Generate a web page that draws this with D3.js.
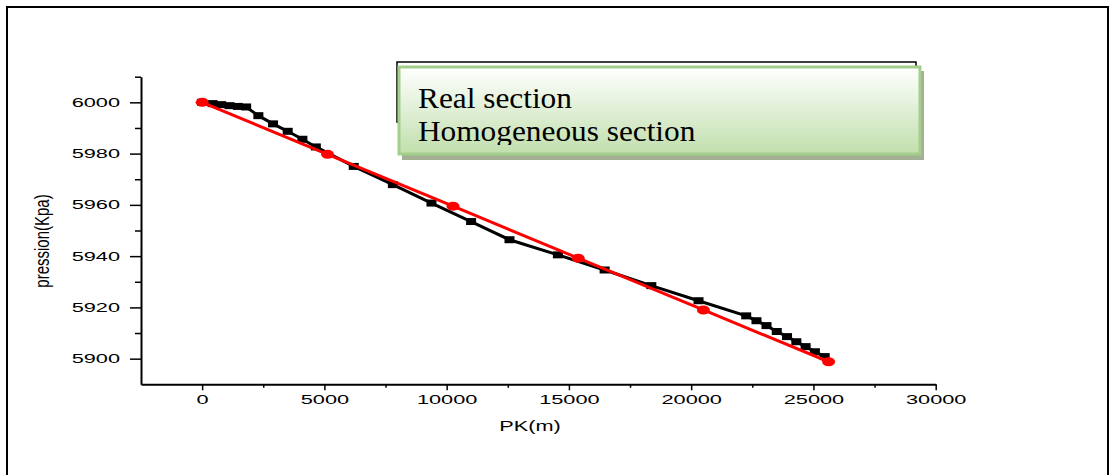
<!DOCTYPE html>
<html>
<head>
<meta charset="utf-8">
<script src="https://cdn.jsdelivr.net/npm/d3@7"></script>
<style>
  html, body { margin: 0; padding: 0; background: #fff; }
  svg { display: block; }
</style>
</head>
<body>
<svg id="chart" width="1110" height="475"></svg>
<script>
// ---- data ----
const realX = [0, 430, 780, 1120, 1460, 1800, 2300, 2900, 3500, 4100, 4650, 6200, 7800, 9380, 11000, 12570, 14550, 16460, 18370, 20300, 22250, 22670, 23080, 23500, 23920, 24300, 24680, 25060, 25460];
const realY = [6000, 5999.5, 5999.1, 5998.7, 5998.4, 5998.2, 5994.8, 5991.6, 5988.7, 5985.6, 5982.6, 5975, 5967.9, 5960.7, 5953.5, 5946.4, 5940.5, 5934.6, 5928.5, 5922.6, 5916.7, 5914.8, 5912.9, 5910.6, 5908.6, 5906.6, 5904.7, 5902.7, 5900.8];
const homoX = [0, 5130, 10260, 15380, 20500, 25620];
const homoY = [6000, 5979.7, 5959.5, 5939.2, 5919, 5898.8];
const xTicks = [0, 5000, 10000, 15000, 20000, 25000, 30000];
const xMinorTicks = [2500, 7500, 12500, 17500, 22500, 27500];
const yTicks = [5900, 5920, 5940, 5960, 5980, 6000];
const yMinorTicks = [5910, 5930, 5950, 5970, 5990, 6010];
const legendLabels = ["Real section", "Homogeneous section"];
const xTitle = "PK(m)";
const yTitle = "pression(Kpa)";

const svg = d3.select("#chart");

// outer frame
svg.append("rect").attr("x", 7).attr("y", 7).attr("width", 1101).attr("height", 490)
  .attr("fill", "none").attr("stroke", "#000").attr("stroke-width", 2);

const x = d3.scaleLinear().domain([-2500, 30000]).range([141, 935.7]);
const y = d3.scaleLinear().domain([5890, 6010]).range([384.3, 76.7]);

const SX = 1.74;
const tickFont = "'Liberation Sans', Arial, sans-serif";

// x axis
const gx = svg.append("g").attr("transform", `translate(0,${y(5890)})`);
gx.call(d3.axisBottom(x).tickValues(xTicks).tickSize(6).tickPadding(4.5).tickFormat(d3.format("d")).tickSizeOuter(0));
gx.append("g").call(d3.axisBottom(x).tickValues(xMinorTicks).tickSize(3.5).tickFormat("").tickSizeOuter(0))
  .select(".domain").remove();
gx.selectAll(".domain").attr("stroke-width", 2);
gx.selectAll(".tick line").attr("stroke-width", 1.5);
gx.selectAll(".tick text").attr("font-family", tickFont).attr("font-size", 12.5)
  .attr("fill", "#000").attr("transform", `scale(${SX},1)`);

// y axis
const gy = svg.append("g").attr("transform", `translate(${x(-2500)},0)`);
gy.call(d3.axisLeft(y).tickValues(yTicks).tickSize(11).tickPadding(10).tickFormat(d3.format("d")).tickSizeOuter(0));
gy.append("g").call(d3.axisLeft(y).tickValues(yMinorTicks).tickSize(6).tickFormat("").tickSizeOuter(0))
  .select(".domain").remove();
gy.selectAll(".domain").attr("stroke-width", 2);
gy.selectAll(".tick line").attr("stroke-width", 1.5);
gy.selectAll(".tick text").attr("font-family", tickFont).attr("font-size", 12.5)
  .attr("fill", "#000").attr("x", -21 / SX).attr("transform", `scale(${SX},1)`);

// axis titles
svg.append("text").attr("transform", `translate(530,431) scale(1.55,1)`)
  .attr("text-anchor", "middle").attr("font-family", tickFont).attr("font-size", 14)
  .text(xTitle);
svg.append("text").attr("transform", `translate(49,241) scale(1.3,1) rotate(-90)`)
  .attr("text-anchor", "middle").attr("font-family", tickFont).attr("font-size", 15)
  .text(yTitle);

// series
const realPts = realX.map((v, i) => [v, realY[i]]);
const homoPts = homoX.map((v, i) => [v, homoY[i]]);
const line = d3.line().x(d => x(d[0])).y(d => y(d[1]));

svg.append("path").datum(realPts).attr("d", line).attr("fill", "none")
  .attr("stroke", "#000").attr("stroke-width", 3);
svg.selectAll(".sq").data(realPts).enter().append("rect")
  .attr("x", d => x(d[0]) - 5).attr("y", d => y(d[1]) - 3.5)
  .attr("width", 10).attr("height", 7).attr("fill", "#000");

svg.append("path").datum(homoPts).attr("d", line).attr("fill", "none")
  .attr("stroke", "#f00").attr("stroke-width", 3);
svg.selectAll(".ci").data(homoPts).enter().append("ellipse")
  .attr("cx", d => x(d[0])).attr("cy", d => y(d[1]))
  .attr("rx", 6.5).attr("ry", 4.5).attr("fill", "#f00");

// legend
const defs = svg.append("defs");
const grad = defs.append("linearGradient").attr("id", "lg").attr("x1", 0).attr("y1", 0).attr("x2", 0).attr("y2", 1);
grad.append("stop").attr("offset", "0%").attr("stop-color", "#ffffff");
grad.append("stop").attr("offset", "100%").attr("stop-color", "#c1dfac");
defs.append("clipPath").attr("id", "lc").append("rect")
  .attr("x", 398).attr("y", 66).attr("width", 522).attr("height", 79);

svg.append("rect").attr("x", 397).attr("y", 62).attr("width", 519).attr("height", 60)
  .attr("fill", "#fff").attr("stroke", "#000").attr("stroke-width", 1.5);
svg.append("rect").attr("x", 402).attr("y", 71).attr("width", 522).attr("height", 89)
  .attr("fill", "#a3b094");
svg.append("rect").attr("x", 399).attr("y", 67).attr("width", 521).attr("height", 87)
  .attr("fill", "url(#lg)").attr("stroke", "#a4ce8c").attr("stroke-width", 3);
const lt = svg.append("g").attr("clip-path", "url(#lc)");
legendLabels.forEach((t, i) => {
  lt.append("text").attr("transform", `translate(418,${108 + i * 33}) scale(1.08,1)`)
    .attr("font-family", "'Liberation Serif', 'Times New Roman', serif").attr("font-size", 29)
    .attr("fill", "#000").text(t);
});
</script>
</body>
</html>
